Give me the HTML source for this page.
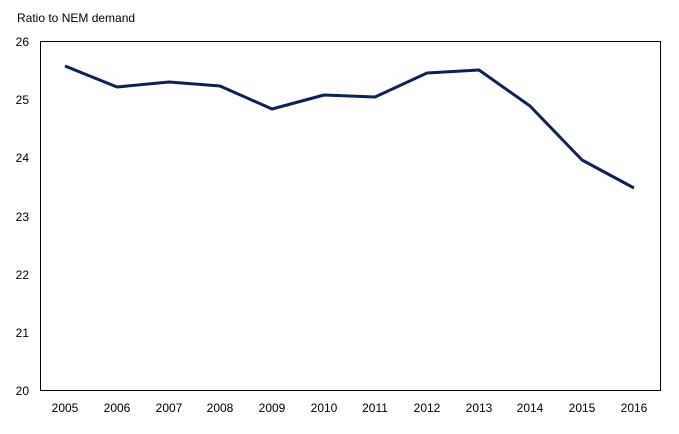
<!DOCTYPE html>
<html><head><style>body{margin:0;background:#fff}</style></head><body>
<svg width="679" height="429" xmlns="http://www.w3.org/2000/svg" font-family="Liberation Sans, Arial, sans-serif" font-size="12" fill="#000">
<rect width="679" height="429" fill="#fff"/>
<text x="17" y="22">Ratio to NEM demand</text>
<rect x="40.5" y="41.5" width="620" height="349" fill="none" stroke="#000" stroke-width="1"/>
<g text-anchor="end">
<text x="29" y="46">26</text>
<text x="29" y="104">25</text>
<text x="29" y="162">24</text>
<text x="29" y="221">23</text>
<text x="29" y="279">22</text>
<text x="29" y="337">21</text>
<text x="29" y="395">20</text>
</g>
<g text-anchor="middle">
<text x="65" y="412">2005</text><text x="117" y="412">2006</text><text x="169" y="412">2007</text><text x="220" y="412">2008</text><text x="272" y="412">2009</text><text x="324" y="412">2010</text><text x="375" y="412">2011</text><text x="427" y="412">2012</text><text x="479" y="412">2013</text><text x="530" y="412">2014</text><text x="582" y="412">2015</text><text x="634" y="412">2016</text>
</g>
<polyline fill="none" stroke="#0d2152" stroke-width="3" stroke-linejoin="round" points="65,66 117,87 169,82 220,86 272,109 324,95 375,97 427,73 479,70 530,106 582,160 634,188"/>
</svg>
</body></html>
